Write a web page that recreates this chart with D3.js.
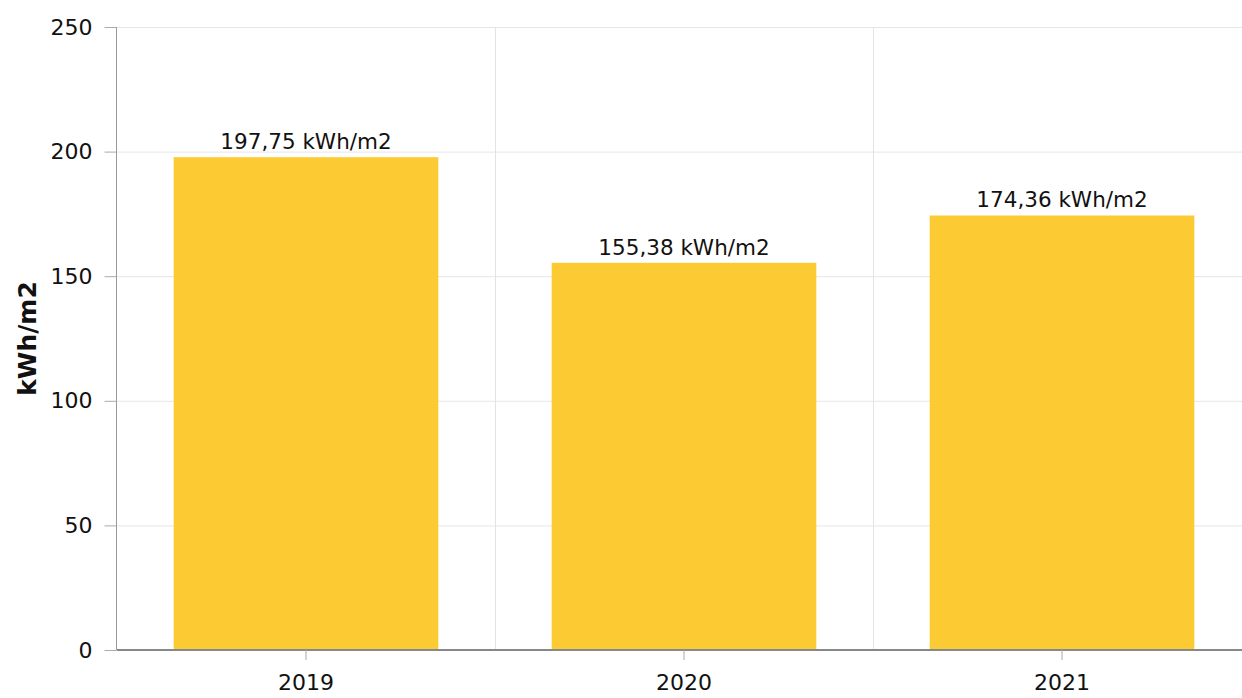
<!DOCTYPE html>
<html>
<head>
<meta charset="utf-8">
<script src="https://d3js.org/d3.v7.min.js"></script>
<style>
  html, body { margin: 0; padding: 0; background: #fff; overflow: hidden; }
  svg { display: block; font-family: "DejaVu Sans", Verdana, sans-serif; }
</style>
</head>
<body>
<svg id="chart" width="1242" height="698"></svg>
<script>
const categories = ["2019", "2020", "2021"];
const values = [197.75, 155.38, 174.36];
const yTicks = [0, 50, 100, 150, 200, 250];
const unitLabel = "kWh/m2";
const axisTitle = "kWh/m2";

const svg = d3.select("#chart");
const margin = { left: 117, top: 27, bottom: 48, right: -9 };
const W = 1242, H = 698;
const x0 = margin.left, x1 = W - margin.right;
const yTop = margin.top, yBot = H - margin.bottom;

const x = d3.scaleBand().domain(categories).range([x0, x1]).paddingInner(0.3).paddingOuter(0.15);
const step = x.step();
const y = d3.scaleLinear().domain([0, 250]).range([yBot, yTop]);

// horizontal grid
svg.append("g").selectAll("line").data(yTicks).join("line")
  .attr("x1", x0).attr("x2", x1)
  .attr("y1", d => y(d) + 0.5).attr("y2", d => y(d) + 0.5)
  .attr("stroke", "#e6e6e6").attr("stroke-width", 1);

// vertical grid at category boundaries
svg.append("g").selectAll("line").data(categories.slice(1)).join("line")
  .attr("x1", d => x(d) - x.paddingInner() * step / 2 + 0.5)
  .attr("x2", d => x(d) - x.paddingInner() * step / 2 + 0.5)
  .attr("y1", yTop).attr("y2", yBot)
  .attr("stroke", "#e3e3e3").attr("stroke-width", 1);

// bars
svg.append("g").selectAll("rect").data(values).join("rect")
  .attr("x", (d, i) => x(categories[i]))
  .attr("width", x.bandwidth())
  .attr("y", d => y(d))
  .attr("height", d => y(0) - y(d))
  .attr("fill", "#fcca32");

// data labels
const fmt = v => d3.format(".2f")(v).replace(".", ",");
svg.append("g").selectAll("text").data(values).join("text")
  .attr("x", (d, i) => x(categories[i]) + x.bandwidth() / 2)
  .attr("y", d => y(d) - 8)
  .attr("text-anchor", "middle")
  .attr("font-size", 21.5)
  .attr("fill", "#111")
  .text(d => fmt(d) + " " + unitLabel);

// y axis
const yAxis = d3.axisLeft(y).tickValues(yTicks).tickSize(12).tickPadding(12).tickFormat(d3.format("d"));
const gy = svg.append("g").attr("transform", `translate(${x0 - 0.5},0)`).call(yAxis);
gy.select(".domain").attr("stroke", "#999").attr("d", `M0,${yTop}V${yBot}`);
gy.selectAll(".tick line").attr("stroke", "#aaa");
gy.selectAll(".tick text").attr("font-size", 22).attr("font-family", "DejaVu Sans, Verdana, sans-serif").attr("fill", "#111");

// x axis
const xAxis = d3.axisBottom(x).tickSize(10).tickPadding(14);
const gx = svg.append("g").attr("transform", `translate(0,${yBot})`).call(xAxis);
gx.select(".domain").attr("stroke", "#888").attr("stroke-width", 2).attr("d", `M${x0},0H${x1}`);
gx.selectAll(".tick line").attr("stroke", "#aaa");
gx.selectAll(".tick text").attr("font-size", 22).attr("font-family", "DejaVu Sans, Verdana, sans-serif").attr("fill", "#111");

// y title
svg.append("text")
  .attr("transform", `translate(36,${(yTop + yBot) / 2}) rotate(-90)`)
  .attr("text-anchor", "middle")
  .attr("font-size", 25)
  .attr("font-weight", "bold")
  .attr("fill", "#111")
  .text(axisTitle);
</script>
</body>
</html>
